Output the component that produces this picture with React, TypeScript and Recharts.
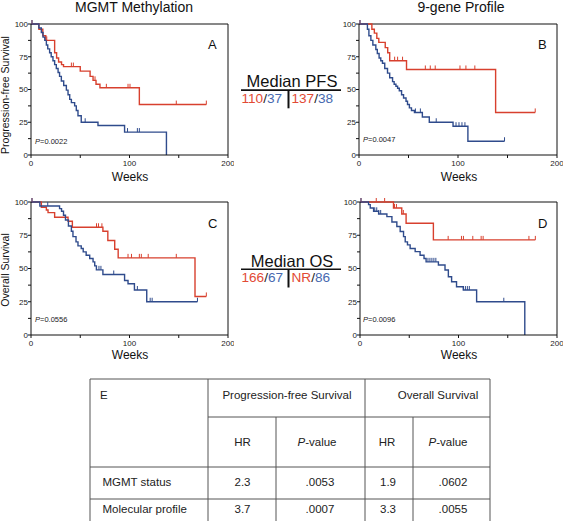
import React from 'react';
import { ComposedChart, Line, Scatter, XAxis, YAxis, ReferenceLine } from 'recharts';

const FONT = '"Liberation Sans", Arial, Helvetica, sans-serif';
const RED = '#d8402e';
const BLUE = '#2f4b8c';
const TXT_RED = '#e24a35';
const TXT_BLUE = '#4769b0';

const xTicks = [0, 50, 100, 150, 200];
const yTicks = [0, 12.5, 25, 37.5, 50, 62.5, 75, 87.5, 100];

// A: progression-free survival by MGMT status
const pfsMethWeeks = [0, 8, 12, 15, 24, 26, 28, 31, 33, 50, 60, 63, 66, 70, 110, 178];
const pfsMethSurv = [100, 96, 91, 87.5, 78, 74, 71, 69, 67.5, 64, 60, 57, 54, 51.3, 38.5, 38.5];
const pfsMethCensored = [1, 16, 41, 43, 65, 76.5, 98.5, 100.5, 147.5, 178];
const pfsUnmethWeeks = [0, 8, 10.5, 12.2, 14, 15.6, 17, 18.9, 20.5, 22.3, 24, 25.7, 27.5, 29, 30.8, 33.2, 35.9, 37.6, 39.3, 41, 44.3, 46, 47.7, 51, 68, 95, 137.5];
const pfsUnmethSurv = [100, 97, 93.5, 90, 87.5, 84, 81, 78, 75, 72, 69, 66, 63, 60, 56.5, 53, 49.5, 46, 42.5, 40, 37.5, 34, 30, 25, 22.5, 17.5, 0];
const pfsUnmethCensored = [1, 55, 98, 108, 110];

// B: progression-free survival by 9-gene profile
const pfsGoodWeeks = [0, 13, 15.5, 18, 20, 26.5, 29, 31, 48, 138, 178];
const pfsGoodSurv = [100, 96, 93, 89, 86, 82, 78, 72, 65.3, 32.5, 32.5];
const pfsGoodCensored = [1, 36, 39, 44, 67, 72, 77, 102, 108, 117, 178];
const pfsPoorWeeks = [0, 8.5, 10, 12, 14, 17, 18.5, 20.3, 22, 23.7, 26, 28.8, 31, 33.9, 35.5, 37.3, 39, 40.7, 43, 45, 47.5, 49, 50.9, 53, 56, 64, 71, 95, 110, 147];
const pfsPoorSurv = [100, 96, 91, 87.5, 84, 80.5, 77.5, 74, 72, 70, 66, 62.5, 59, 56, 54, 52.5, 51, 49, 46, 43.5, 41, 38.5, 36, 34, 32.5, 29, 25, 22, 10.5, 10.5];
const pfsPoorCensored = [1, 57, 62, 78, 98, 101, 104, 107, 147];

// C: overall survival by MGMT status
const osMethWeeks = [0, 10.5, 15.6, 17.3, 24, 37.6, 42, 73, 78, 85, 88.5, 166.5, 178];
const osMethSurv = [100, 96, 94, 92, 88.5, 85.5, 81, 78, 71, 64.5, 58, 29, 29];
const osMethCensored = [1, 66.5, 68.5, 72, 98.5, 102, 110, 112, 119, 147.5, 178];
const osUnmethWeeks = [0, 9, 29, 31, 33, 35, 38, 41, 42.6, 45.7, 47.7, 51, 53, 56, 59.6, 63, 64.7, 66.4, 73, 95, 98.5, 105, 117.5, 169];
const osUnmethSurv = [100, 97, 95, 93, 90, 86.5, 82, 78, 74, 70, 67, 65, 62.5, 60, 57.5, 55, 52, 49, 45.5, 41, 38.5, 33.8, 25, 25];
const osUnmethCensored = [1, 17, 69, 71, 84, 108, 121, 123, 169];

// D: overall survival by 9-gene profile
const osGoodWeeks = [0, 34, 42.4, 46.8, 74.5, 178];
const osGoodSurv = [100, 95.5, 91, 84, 71.5, 71.5];
const osGoodCensored = [1, 16.5, 25, 35, 37, 44, 89.5, 103, 105, 114.5, 123, 125, 171.5, 178];
const osPoorWeeks = [0, 8.7, 10.4, 13.8, 18.9, 27.3, 32.4, 37.4, 40.8, 44.2, 45.9, 48.2, 50.9, 56, 61, 65, 67.1, 79.6, 86.3, 89.7, 93, 98, 104.9, 118.4, 167.3];
const osPoorSurv = [100, 98, 95.5, 93, 91, 89, 85, 81.6, 77.8, 74, 70, 67.8, 65, 62.7, 60, 57.5, 55, 52.6, 48.9, 43.8, 40, 36.3, 33.8, 25, 0];
const osPoorCensored = [1, 15, 17, 19, 21, 69, 71, 73, 75, 77, 105, 107, 109, 111, 146];

interface Curve {
  weeks: number[];
  surv: number[];
  censored: number[];
  color: string;
}

const toSteps = (c: Curve) => c.weeks.map((w, i) => ({ w, s: c.surv[i] }));

const survAt = (c: Curve, t: number) => {
  let v = c.surv[0];
  c.weeks.forEach((w, i) => {
    if (w <= t) v = c.surv[i];
  });
  return v;
};

const toCensors = (c: Curve) => c.censored.map(w => ({ w, s: survAt(c, w) }));

const CensorMark = (color: string) => (props: any) => {
  const { cx, cy } = props;
  if (cx == null || cy == null) return <g />;
  return <line x1={cx} x2={cx} y1={cy - 4} y2={cy} stroke={color} strokeWidth={1} />;
};

// only the round values get a label, minor ticks keep just their tick line
const XTick = (props: any) => {
  const { x, y, payload } = props;
  if (payload.value % 100 !== 0) return <g />;
  return (
    <text x={x} y={y} dy="0.71em" textAnchor="middle" fontSize={8} fill="#222" fontFamily={FONT}>
      {payload.value}
    </text>
  );
};

const YTick = (props: any) => {
  const { x, y, payload } = props;
  if (payload.value % 25 !== 0) return <g />;
  return (
    <text x={x} y={y} dy="0.355em" textAnchor="end" fontSize={8} fill="#222" fontFamily={FONT}>
      {payload.value}
    </text>
  );
};

interface PanelProps {
  left: number;
  top: number;
  plotW: number;
  plotH: number;
  curves: Curve[];
}

const KMPanel: React.FC<PanelProps> = ({ left, top, plotW, plotH, curves }) => {
  const yAxisW = 31;
  const xAxisH = 20;
  const mTop = 24;
  const mRight = 6;
  return (
    <div style={{ position: 'absolute', left: left - yAxisW, top: top - mTop }}>
      <ComposedChart
        width={yAxisW + plotW + mRight}
        height={mTop + plotH + xAxisH}
        margin={{ top: mTop, right: mRight, bottom: 0, left: 0 }}
      >
        <XAxis
          type="number"
          dataKey="w"
          domain={[0, 200]}
          ticks={xTicks}
          interval={0}
          height={xAxisH}
          tickSize={3}
          tick={XTick}
          stroke="#111"
          allowDataOverflow
        />
        <YAxis
          type="number"
          dataKey="s"
          domain={[0, 100]}
          ticks={yTicks}
          interval={0}
          width={yAxisW}
          tickSize={3}
          tickMargin={0}
          tick={YTick}
          stroke="#111"
        />
        <ReferenceLine y={100} stroke="#111" />
        <ReferenceLine x={200} stroke="#111" />
        {curves.map((c, i) => (
          <Line
            key={'l' + i}
            data={toSteps(c)}
            dataKey="s"
            type="stepAfter"
            stroke={c.color}
            strokeWidth={1.4}
            dot={false}
            activeDot={false}
            isAnimationActive={false}
          />
        ))}
        {curves.map((c, i) => (
          <Scatter
            key={'c' + i}
            data={toCensors(c)}
            dataKey="s"
            shape={CensorMark(c.color)}
            isAnimationActive={false}
          />
        ))}
      </ComposedChart>
    </div>
  );
};

const panelA: Curve[] = [
  { weeks: pfsMethWeeks, surv: pfsMethSurv, censored: pfsMethCensored, color: RED },
  { weeks: pfsUnmethWeeks, surv: pfsUnmethSurv, censored: pfsUnmethCensored, color: BLUE },
];
const panelB: Curve[] = [
  { weeks: pfsGoodWeeks, surv: pfsGoodSurv, censored: pfsGoodCensored, color: RED },
  { weeks: pfsPoorWeeks, surv: pfsPoorSurv, censored: pfsPoorCensored, color: BLUE },
];
const panelC: Curve[] = [
  { weeks: osMethWeeks, surv: osMethSurv, censored: osMethCensored, color: RED },
  { weeks: osUnmethWeeks, surv: osUnmethSurv, censored: osUnmethCensored, color: BLUE },
];
const panelD: Curve[] = [
  { weeks: osGoodWeeks, surv: osGoodSurv, censored: osGoodCensored, color: RED },
  { weeks: osPoorWeeks, surv: osPoorSurv, censored: osPoorCensored, color: BLUE },
];

// E: hazard ratio table
const tableRows = ['MGMT status', 'Molecular profile'];
const pfsHR = ['2.3', '3.7'];
const pfsP = ['.0053', '.0007'];
const osHR = ['1.9', '3.3'];
const osP = ['.0602', '.0055'];

const PValue = ({ x, y, value }: { x: number; y: number; value: string }) => (
  <text x={x} y={y} fontSize={7.5} fill="#222">
    <tspan fontStyle="italic">P</tspan>={value}
  </text>
);

const Median = ({ y, label, a, b, c, d }: { y: number; label: string; a: string; b: string; c: string; d: string }) => (
  <g>
    <text x={292} y={y} fontSize={16.5} textAnchor="middle" fill="#111">{label}</text>
    <line x1={241} x2={341} y1={y + 2.8} y2={y + 2.8} stroke="#111" strokeWidth={1.6} />
    <line x1={288.5} x2={288.5} y1={y + 2.8} y2={y + 21} stroke="#111" strokeWidth={2} />
    <text x={241.5} y={y + 15.5} fontSize={13.6}>
      <tspan fill={TXT_RED}>{a}</tspan>
      <tspan fill="#222">/</tspan>
      <tspan fill={TXT_BLUE}>{b}</tspan>
    </text>
    <text x={291.5} y={y + 15.5} fontSize={13.6}>
      <tspan fill={TXT_RED}>{c}</tspan>
      <tspan fill="#222">/</tspan>
      <tspan fill={TXT_BLUE}>{d}</tspan>
    </text>
  </g>
);

export default function App() {
  const lc = '#555';
  const rowY = [486, 512.5];
  return (
    <div style={{ position: 'relative', width: 564, height: 521, background: '#fff', overflow: 'hidden', fontFamily: FONT }}>
      <style>{'body{margin:0}'}</style>
      <KMPanel left={31} top={24} plotW={197} plotH={131} curves={panelA} />
      <KMPanel left={359} top={24} plotW={198} plotH={131} curves={panelB} />
      <KMPanel left={31} top={202} plotW={197} plotH={133} curves={panelC} />
      <KMPanel left={360} top={202} plotW={197} plotH={133} curves={panelD} />
      <svg width={564} height={521} style={{ position: 'absolute', left: 0, top: 0, pointerEvents: 'none' }} fontFamily={FONT}>
        <text x={134} y={12} fontSize={14} textAnchor="middle" fill="#111">MGMT Methylation</text>
        <text x={461} y={12} fontSize={14} textAnchor="middle" fill="#111">9-gene Profile</text>

        <text x={130} y={181} fontSize={12} textAnchor="middle" fill="#111">Weeks</text>
        <text x={459} y={181} fontSize={12} textAnchor="middle" fill="#111">Weeks</text>
        <text x={130} y={359} fontSize={12} textAnchor="middle" fill="#111">Weeks</text>
        <text x={459} y={359} fontSize={12} textAnchor="middle" fill="#111">Weeks</text>

        <text transform="translate(9,95) rotate(-90)" fontSize={10.5} textAnchor="middle" fill="#111">Progression-free Survival</text>
        <text transform="translate(9,270) rotate(-90)" fontSize={10.5} textAnchor="middle" fill="#111">Overall Survival</text>

        <text x={208} y={49} fontSize={13} fill="#111">A</text>
        <text x={538} y={49} fontSize={13} fill="#111">B</text>
        <text x={208} y={228} fontSize={13} fill="#111">C</text>
        <text x={538} y={227.5} fontSize={13} fill="#111">D</text>

        <PValue x={35} y={143.5} value="0.0022" />
        <PValue x={363} y={142} value="0.0047" />
        <PValue x={35} y={321.5} value="0.0556" />
        <PValue x={363} y={321.5} value="0.0096" />

        <Median y={87.3} label="Median PFS" a="110" b="37" c="137" d="38" />
        <Median y={266.5} label="Median OS" a="166" b="67" c="NR" d="86" />

        {/* table E */}
        <g stroke={lc} strokeWidth={1}>
          <line x1={90} x2={90} y1={379} y2={531} />
          <line x1={490} x2={490} y1={379} y2={531} />
          <line x1={90} x2={490} y1={379} y2={379} />
          <line x1={208} x2={490} y1={417} y2={417} />
          <line x1={90} x2={490} y1={467} y2={467} />
          <line x1={90} x2={490} y1={499} y2={499} />
          <line x1={208} x2={208} y1={379} y2={531} />
          <line x1={365} x2={365} y1={379} y2={531} />
          <line x1={276} x2={276} y1={417} y2={531} />
          <line x1={413} x2={413} y1={417} y2={531} />
        </g>
        <g fontSize={11.5} fill="#222">
          <text x={100} y={399}>E</text>
          <text x={287} y={399} textAnchor="middle">Progression-free Survival</text>
          <text x={438} y={399} textAnchor="middle">Overall Survival</text>
          <text x={242.5} y={446} textAnchor="middle">HR</text>
          <text x={317} y={446} textAnchor="middle"><tspan fontStyle="italic">P</tspan>-value</text>
          <text x={387} y={446} textAnchor="middle">HR</text>
          <text x={448} y={446} textAnchor="middle"><tspan fontStyle="italic">P</tspan>-value</text>
          {tableRows.map((r, i) => (
            <g key={r}>
              <text x={102.5} y={rowY[i]}>{r}</text>
              <text x={242.5} y={rowY[i]} textAnchor="middle">{pfsHR[i]}</text>
              <text x={320} y={rowY[i]} textAnchor="middle">{pfsP[i]}</text>
              <text x={388} y={rowY[i]} textAnchor="middle">{osHR[i]}</text>
              <text x={453} y={rowY[i]} textAnchor="middle">{osP[i]}</text>
            </g>
          ))}
        </g>
      </svg>
    </div>
  );
}
